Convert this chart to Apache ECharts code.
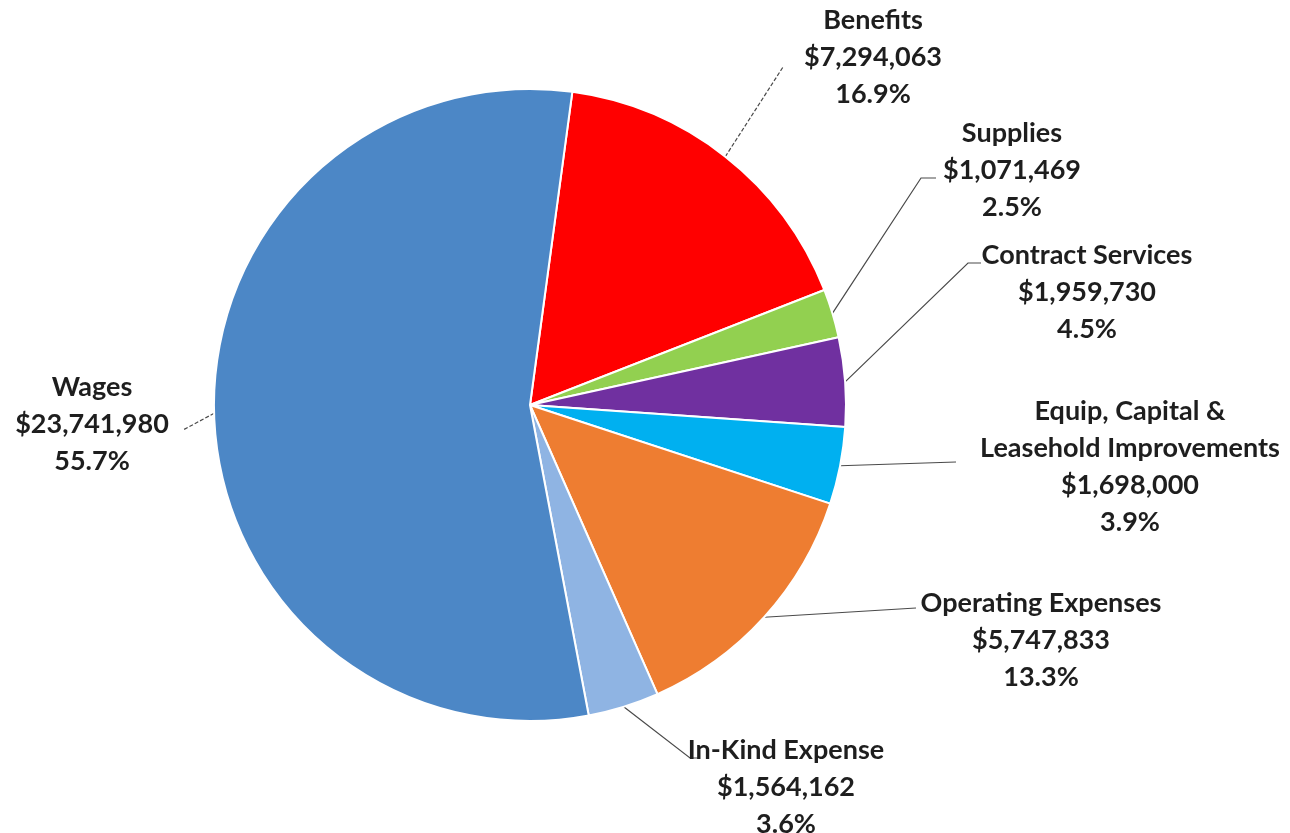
<!DOCTYPE html>
<html>
<head>
<meta charset="utf-8">
<script src="https://cdn.jsdelivr.net/npm/echarts@6/dist/echarts.min.js"></script>
<style>
  html, body { margin: 0; padding: 0; background: #ffffff; }
  #chart { width: 1290px; height: 833px; }
</style>
</head>
<body>
<div id="chart"></div>
<script>
// Expense categories, clockwise from the top of the pie
const categories = [
  'Benefits',
  'Supplies',
  'Contract Services',
  'Equip, Capital &\nLeasehold Improvements',
  'Operating Expenses',
  'In-Kind Expense',
  'Wages'
];
const amounts = [7294063, 1071469, 1959730, 1698000, 5747833, 1564162, 23741980];
const percentLabels = ['16.9%', '2.5%', '4.5%', '3.9%', '13.3%', '3.6%', '55.7%'];
const sliceColors = ['#ff0000', '#92d050', '#7030a0', '#00b0f0', '#ee7d31', '#8fb4e3', '#4c87c6'];

// Label block centres and leader-line bends (px)
const labelSpots = [
  { x: 873,  y: 57,  bend: null,        end: [783, 67]  },
  { x: 1012, y: 170, bend: [921, 178],  end: [936, 178] },
  { x: 1087, y: 292, bend: [968, 263],  end: [981, 263] },
  { x: 1130, y: 467, bend: null,        end: [956, 462] },
  { x: 1041, y: 640, bend: null,        end: [916, 608] },
  { x: 786,  y: 787, bend: [690, 758],  end: [700, 758] },
  { x: 92,   y: 424, bend: null,        end: [183, 430] }
];
const dashedLines = [true, false, false, false, false, false, true];

function money(v) {
  return '$' + v.toString().replace(/\B(?=(\d{3})+(?!\d))/g, ',');
}

const chart = echarts.init(document.getElementById('chart'), null, { renderer: 'canvas' });

chart.setOption({
  backgroundColor: '#ffffff',
  animation: false,
  series: [{
    type: 'pie',
    center: [530, 405],
    radius: 316,
    startAngle: 82.3,
    clockwise: true,
    avoidLabelOverlap: false,
    itemStyle: { borderColor: '#ffffff', borderWidth: 2 },
    label: {
      show: true,
      position: 'outside',
      fontFamily: 'Lato, "Open Sans", sans-serif',
      fontWeight: 'bold',
      fontSize: 27,
      lineHeight: 37,
      color: '#1e1e1e',
      align: 'center',
      formatter: p => p.name + '\n' + money(p.value) + '\n' + percentLabels[p.dataIndex]
    },
    labelLine: {
      show: true,
      length: 20,
      length2: 10,
      lineStyle: { color: '#4a4a4a', width: 1.2 }
    },
    labelLayout: function (params) {
      const s = labelSpots[params.dataIndex];
      const start = params.labelLinePoints ? params.labelLinePoints[0] : s.end;
      const pts = s.bend ? [start, s.bend, s.end] : [start, s.end];
      return {
        x: s.x,
        y: s.y,
        align: 'center',
        verticalAlign: 'middle',
        labelLinePoints: pts
      };
    },
    data: categories.map((name, i) => ({
      name: name,
      value: amounts[i],
      itemStyle: { color: sliceColors[i] },
      labelLine: { lineStyle: { type: dashedLines[i] ? [4, 2] : 'solid' } }
    }))
  }]
});
</script>
</body>
</html>
